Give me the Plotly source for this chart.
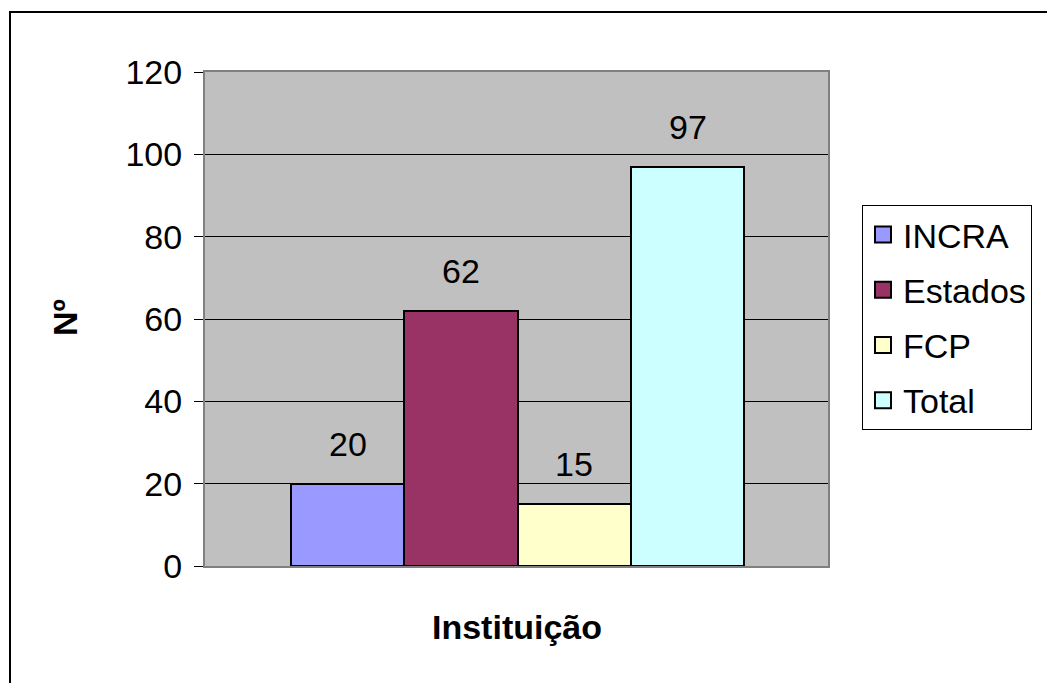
import plotly.graph_objects as go

series = ["INCRA", "Estados", "FCP", "Total"]
values = [20, 62, 15, 97]
colors = ["#9999FF", "#993366", "#FFFFCC", "#CCFFFF"]
y_ticks = [0, 20, 40, 60, 80, 100, 120]
x_title = "Instituição"
y_title = "Nº"

OFF = 8  # page body margin
W, H = 1055 - OFF, 683 - OFF
L, R, T, B = 205 - OFF, 828 - OFF, 72 - OFF, 566 - OFF  # plot area in figure pixels
pw, ph = R - L, B - T

def px_x(p):  # p in screenshot pixels
    return (p - OFF - L) / pw

def px_y(p):
    return (B - (p - OFF)) / ph

FONT = "Liberation Sans, Arial, sans-serif"

fig = go.Figure()
for i, (name, v, c) in enumerate(zip(series, values, colors)):
    fig.add_trace(go.Bar(
        x=[i], y=[v], width=1, name=name, marker=dict(color=c, line=dict(color="black", width=2)),
        showlegend=False, hoverinfo="skip",
    ))
    fig.add_annotation(x=i, y=v, text=str(v), showarrow=False, yanchor="bottom", yshift=19,
                       font=dict(size=34, color="black", family=FONT))
    fig.add_trace(go.Scatter(
        x=[None], y=[None], mode="markers", name=name, legendgroup=name,
        marker=dict(symbol="square", size=16, color=c, line=dict(color="black", width=2)),
    ))

fig.update_layout(
    width=W, height=H,
    margin=dict(l=L, r=W - R, t=T, b=H - B, pad=0),
    paper_bgcolor="white", plot_bgcolor="#C0C0C0",
    font=dict(family=FONT, size=34, color="black"),
    barmode="overlay", bargap=0,
    xaxis=dict(range=[-1.26, 4.24], showticklabels=False, showgrid=False, zeroline=False,
               showline=True, linecolor="#808080", linewidth=2, mirror=True, ticks=""),
    yaxis=dict(range=[0, 120], tickvals=y_ticks, ticks="outside", ticklen=9, tickcolor="black",
               tickwidth=1, showgrid=True, gridcolor="black", gridwidth=1, zeroline=False,
               showline=True, linecolor="#808080", linewidth=2, mirror=True,
               tickfont=dict(size=34), ticklabelstandoff=5),
    legend=dict(x=px_x(862), y=px_y(205), xanchor="left", yanchor="top",
                bordercolor="black", borderwidth=1, bgcolor="white",
                font=dict(size=34), tracegroupgap=8, itemwidth=30),
    showlegend=True,
)

fig.add_annotation(xref="paper", yref="paper", x=px_x(517), y=px_y(627), xanchor="center", yanchor="middle",
                   text="<b>" + x_title + "</b>", showarrow=False, font=dict(size=34, family=FONT))
fig.add_annotation(xref="paper", yref="paper", x=px_x(65), y=px_y(318), xanchor="center", yanchor="middle",
                   text="<b>" + y_title + "</b>", showarrow=False, textangle=-90, font=dict(size=34, family=FONT))

# outer chart border (left and top edges visible, extends beyond the page)
fig.add_shape(type="rect", xref="paper", yref="paper", x0=px_x(10), x1=px_x(1100), y0=px_y(740), y1=px_y(12),
              line=dict(color="black", width=2), layer="below")

fig.write_html("out.html")
